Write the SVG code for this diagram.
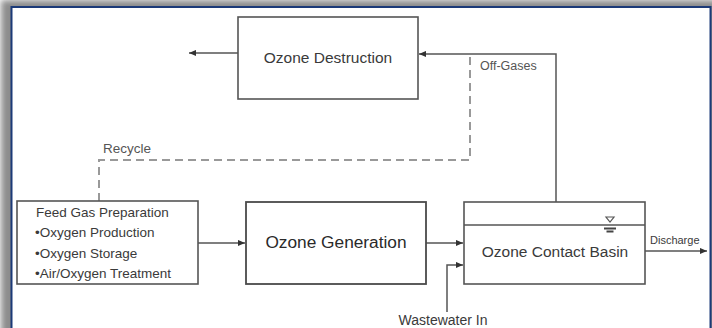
<svg xmlns="http://www.w3.org/2000/svg" width="712" height="328" viewBox="0 0 712 328">
<defs>
<filter id="sh" x="-5%" y="-5%" width="110%" height="110%"><feGaussianBlur stdDeviation="3"/></filter>
<marker id="ah" viewBox="0 0 8 8" refX="8" refY="4" markerWidth="7" markerHeight="7" markerUnits="userSpaceOnUse" orient="auto"><path d="M0,0.5 L8,4 L0,7.5 Z" fill="#333"/></marker>
<style>
.box{fill:#fff;stroke:#555;stroke-width:1.6}
.ln{fill:none;stroke:#555;stroke-width:1.5}
.dash{fill:none;stroke:#999;stroke-width:2;stroke-dasharray:8,5}
text{font-family:"Liberation Sans",Arial,sans-serif;fill:#3a3a3a}
.lbl{font-size:15.5px;text-anchor:middle}
.sm{font-size:13.5px}
</style>
</defs>
<rect width="712" height="328" fill="#fff"/>
<rect x="1" y="0" width="718" height="345" fill="#8c8c8c" filter="url(#sh)"/>
<rect x="11.5" y="7" width="699" height="330" fill="#fff" stroke="#1c3a78" stroke-width="2"/>
<g id="connectors">
<path class="ln" d="M238,53 H189" marker-end="url(#ah)"/>
<path class="ln" d="M556,202 V54 H419" marker-end="url(#ah)"/>
<path class="dash" d="M99,201 V160 H470 V56"/>
<path class="ln" d="M198,243 H245" marker-end="url(#ah)"/>
<path class="ln" d="M426,243 H463" marker-end="url(#ah)"/>
<path class="ln" d="M447,312 V265 H463" marker-end="url(#ah)"/>
<path class="ln" d="M645,251 H707" marker-end="url(#ah)"/>
<text x="480" y="70" style="font-size:12.5px;fill:#555">Off-Gases</text>
<text x="103" y="153" class="sm" style="fill:#555">Recycle</text>
<text x="650" y="244" style="font-size:11px">Discharge</text>
<text x="443" y="325" style="font-size:14px;text-anchor:middle">Wastewater In</text>
</g>
<g id="ozone-destruction">
<rect class="box" x="238" y="17" width="180" height="82"/>
<text class="lbl" x="328" y="63">Ozone Destruction</text>
</g>
<g id="feed-gas">
<rect class="box" x="17" y="201" width="181" height="83"/>
<text class="sm" x="36" y="217">Feed Gas Preparation</text>
<text class="sm" x="35" y="237">•Oxygen Production</text>
<text class="sm" x="35" y="258">•Oxygen Storage</text>
<text class="sm" x="35" y="278">•Air/Oxygen Treatment</text>
</g>
<g id="ozone-generation">
<rect class="box" x="246" y="202" width="180" height="82" style="stroke:#4a4a4a;stroke-width:1.8"/>
<text x="336" y="248" style="font-size:17.3px;text-anchor:middle;fill:#2a2a2a">Ozone Generation</text>
</g>
<g id="contact-basin">
<rect class="box" x="464" y="202" width="181" height="82"/>
<path class="ln" d="M464,225 H645"/>
<path d="M606,217 H614 L610,222 Z" fill="none" stroke="#555" stroke-width="1.2"/>
<path d="M604,228.5 H616 M606.5,231.5 H613.5" stroke="#444" stroke-width="1.8"/>
<text class="lbl" x="555" y="257">Ozone Contact Basin</text>
</g>
</svg>
